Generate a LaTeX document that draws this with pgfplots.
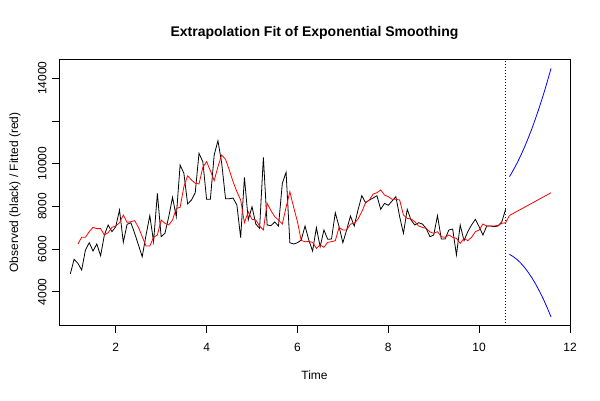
\documentclass[border=0pt]{standalone}
\usepackage{fontspec}
\setmainfont{Liberation Sans}
\usepackage{pgfplots}
\usepackage{pgfplotstable}
\pgfplotsset{compat=1.18}

\pgfplotstableread{
t obs
1.000 4829
1.083 5518
1.167 5330
1.250 5017
1.333 5954
1.417 6296
1.500 5907
1.583 6235
1.667 5687
1.750 6657
1.833 7126
1.917 6812
2.000 7046
2.083 7828
2.167 6314
2.250 7158
2.333 7234
2.417 6734
2.500 6188
2.583 5640
2.667 6657
2.750 7562
2.833 6343
2.917 8611
3.000 6577
3.083 6737
3.167 7515
3.250 8424
3.333 7515
3.417 9937
3.500 9548
3.583 8110
3.667 8297
3.750 8639
3.833 10485
3.917 10092
4.000 8330
4.083 8330
4.167 10406
4.250 11076
4.333 10016
4.417 8358
4.500 8358
4.583 8390
4.667 8063
4.750 6531
4.833 9360
4.917 7360
5.000 7983
5.083 7172
5.167 6969
5.250 10297
5.333 7126
5.417 7094
5.500 7266
5.583 7079
5.667 9080
5.750 9595
5.833 6296
5.917 6235
6.000 6296
6.083 6420
6.167 7079
6.250 6423
6.333 5907
6.417 7000
6.500 6109
6.583 6891
6.667 6455
6.750 6470
6.833 7702
6.917 7046
7.000 6296
7.083 6891
7.167 7547
7.250 7079
7.333 7828
7.417 8500
7.500 8171
7.583 8297
7.667 8390
7.750 8500
7.833 7861
7.917 8142
8.000 8048
8.083 8250
8.167 8452
8.250 7515
8.333 6737
8.417 7861
8.500 7360
8.583 7126
8.667 7234
8.750 7172
8.833 6969
8.917 6577
9.000 6657
9.083 7562
9.167 6470
9.250 6470
9.333 6891
9.417 6938
9.500 5720
9.583 7126
9.667 6390
9.750 6812
9.833 7126
9.917 7391
10.000 7046
10.083 6657
10.167 7079
10.250 7079
10.333 7046
10.417 7079
10.500 7282
10.583 7861
}\observed

\pgfplotstableread{
t fit
1.167 6235
1.250 6549
1.333 6549
1.417 6812
1.500 7017
1.583 6955
1.667 6955
1.750 6657
1.833 6765
1.917 7017
2.000 7079
2.083 7234
2.167 7594
2.250 7250
2.333 7282
2.417 7329
2.500 7017
2.583 6577
2.667 6141
2.750 6141
2.833 6549
2.917 6657
3.000 7360
3.083 7203
3.167 7126
3.250 7360
3.333 7907
3.417 7954
3.500 8920
3.583 9430
3.667 9234
3.750 9080
3.833 9049
3.917 9829
4.000 10092
4.083 9670
4.167 9203
4.250 9857
4.333 10406
4.417 10204
4.500 9703
4.583 9155
4.667 8686
4.750 8297
4.833 7234
4.917 7749
5.000 7391
5.083 7360
5.167 7079
5.250 6891
5.333 8142
5.417 7796
5.500 7515
5.583 7360
5.667 7172
5.750 7954
5.833 8686
5.917 7954
6.000 7282
6.083 6400
6.167 6343
6.250 6350
6.333 6314
6.417 6033
6.500 6188
6.583 6080
6.667 6314
6.750 6343
6.833 6390
6.917 7017
7.000 6891
7.083 6891
7.167 7172
7.250 7203
7.333 7407
7.417 7749
7.500 8171
7.583 8297
7.667 8578
7.750 8639
7.833 8765
7.917 8531
8.000 8452
8.083 8330
8.167 8330
8.250 8297
8.333 7594
8.417 7438
8.500 7407
8.583 7282
8.667 7079
8.750 7017
8.833 6969
8.917 6800
9.000 6737
9.083 6812
9.167 6577
9.250 6549
9.333 6657
9.417 6549
9.500 6500
9.583 6266
9.667 6500
9.750 6390
9.833 6549
9.917 6812
10.000 6891
10.083 7172
10.167 7079
10.250 7079
10.333 7079
10.417 7110
10.500 7203
10.583 7234
}\fitted

\pgfplotstableread{
t mean upper lower
10.667 7570 9389 5751
10.750 7667 9689 5645
10.833 7764 10021 5507
10.917 7862 10386 5338
11.000 7959 10783 5135
11.083 8056 11212 4900
11.167 8153 11674 4632
11.250 8250 12168 4332
11.333 8347 12694 4000
11.417 8445 13252 3638
11.500 8542 13843 3241
11.583 8639 14466 2812
}\forecast

\begin{document}
\begin{tikzpicture}[x=1pt,y=1pt]
\useasboundingbox (0,0) rectangle (600,400);
\begin{axis}[
  at={(59pt,74.3pt)}, anchor=south west,
  scale only axis, width=511pt, height=266.7pt,
  xmin=0.751, xmax=12, ymin=2407, ymax=14904,
  axis line style={line width=0.6pt, black},
  xtick={2,4,6,8,10,12},
  xticklabels={2,4,6,8,10,12},
  ytick={4000,6000,8000,10000,12000,14000},
  yticklabels={4000,6000,8000,10000,,14000},
  scaled x ticks=false, scaled y ticks=false,
  tick align=outside, major tick length=7pt,
  xtick pos=bottom, ytick pos=left,
  tick style={black, line width=0.6pt},
  tick label style={font=\fontsize{12}{14}\selectfont},
  yticklabel style={rotate=90, anchor=south, inner ysep=5.3pt},
  xticklabel style={anchor=north, inner ysep=10.3pt},
  title={Extrapolation Fit of Exponential Smoothing},
  title style={at={(axis description cs:0.5,1.075)}, anchor=center, font=\bfseries\fontsize{14}{16}\selectfont},
  xlabel={Time},
  xlabel style={at={(axis description cs:0.5,-0.184)}, anchor=center, font=\fontsize{12}{14}\selectfont},
  ylabel={Observed (black) / Fitted (red)},
  ylabel style={at={(axis description cs:-0.086,0.5)}, anchor=center, font=\fontsize{12}{14}\selectfont},
  every axis plot/.append style={line width=0.8pt},
]
\addplot[black, no markers] table[x=t, y=obs] {\observed};
\addplot[red, no markers] table[x=t, y=fit] {\fitted};
\addplot[red, no markers] coordinates {(10.583,7234) (10.667,7570)};
\addplot[red, no markers] table[x=t, y=mean] {\forecast};
\addplot[blue, no markers] table[x=t, y=upper] {\forecast};
\addplot[blue, no markers] table[x=t, y=lower] {\forecast};
\addplot[black, no markers, line width=0.6pt, dash pattern=on 0.8pt off 2.2pt] coordinates {(10.583,2407) (10.583,14904)};
\end{axis}
\end{tikzpicture}
\end{document}
